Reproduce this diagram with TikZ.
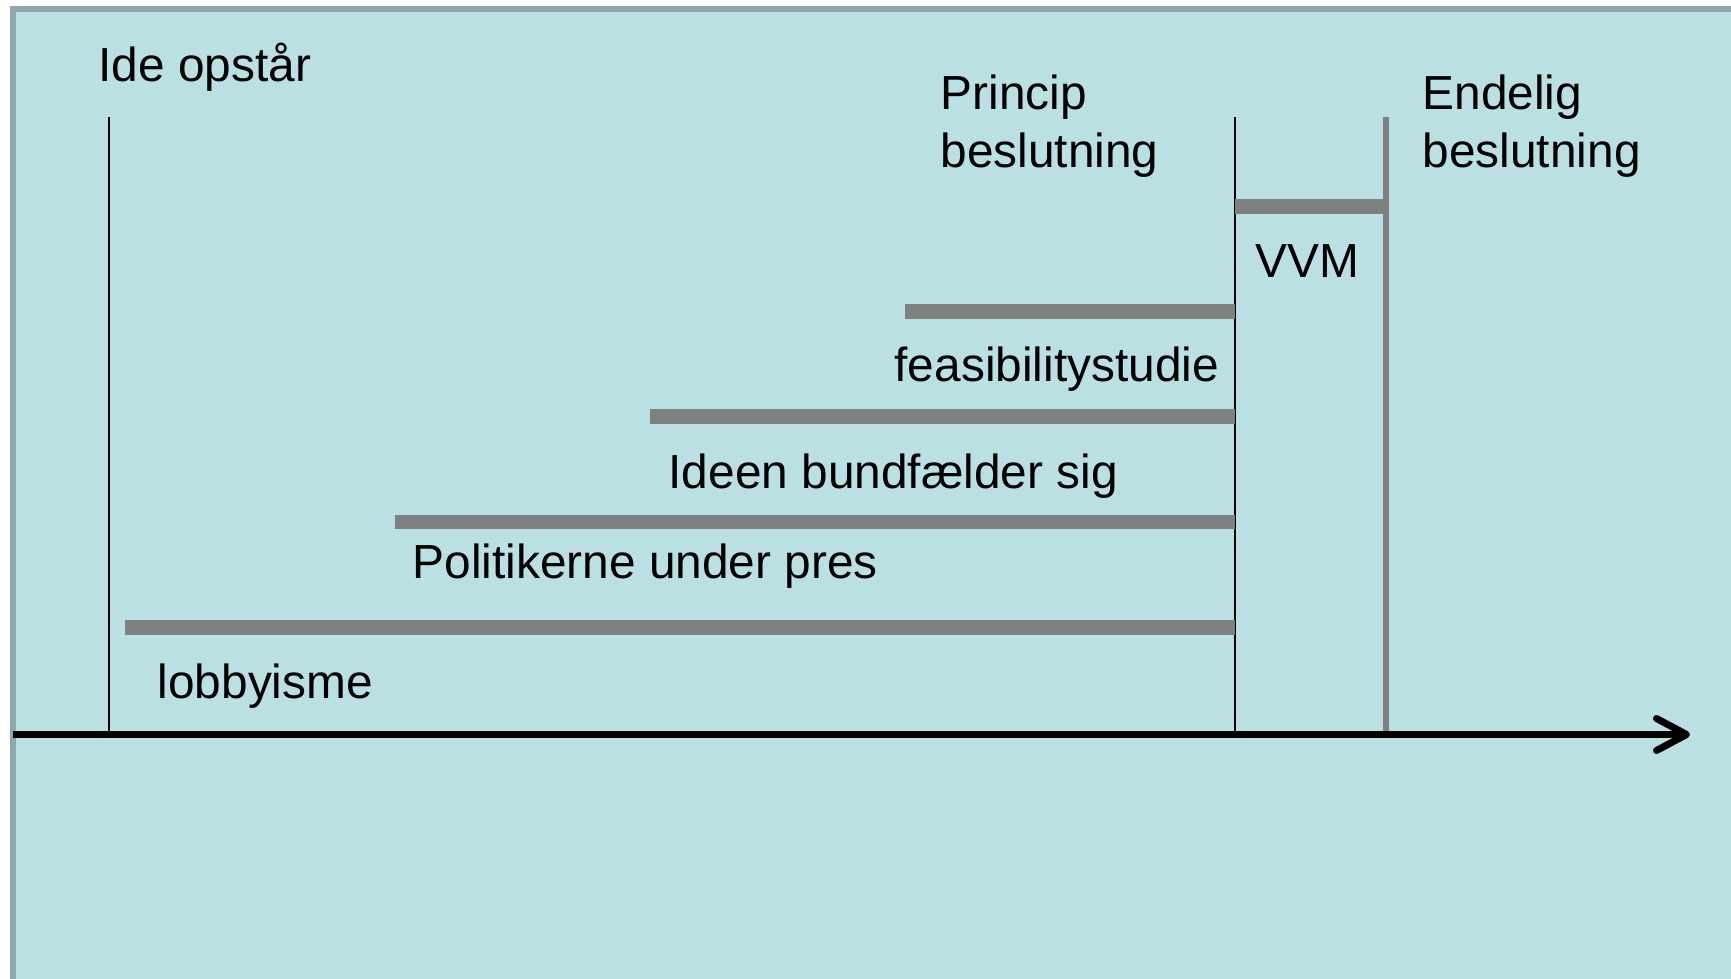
\documentclass[tikz,border=0pt]{standalone}
\usepackage{fontspec}
\setmainfont{Liberation Sans}
\definecolor{baggrund}{RGB}{186,224,227}
\definecolor{ramme}{RGB}{143,168,170}
\definecolor{fasegraa}{RGB}{128,128,128}
\usetikzlibrary{arrows.meta}
\tikzset{
  fase/.style={line width=0.15cm,color=fasegraa},
  tekst/.style={anchor=base west,inner sep=0pt,align=left,
    font=\fontsize{13.6}{16.5}\selectfont},
}

\begin{document}
\begin{tikzpicture}
    \useasboundingbox (0,0) rectangle (17.31,-9.79) ;
    \draw[color=ramme,fill=baggrund,line width=0.06cm] (0.13,-0.09) rectangle (17.6,-10.1) ;
    %% tidslinjens faste punkter
    \coordinate (ide top) at (1.09,-1.17) ;
    \coordinate (ide bund) at (1.09,-7.31) ;
    \coordinate (princip top) at (12.35,-1.17) ;
    \coordinate (princip bund) at (12.35,-7.31) ;
    \coordinate (endelig top) at (13.855,-1.17) ;
    \coordinate (endelig bund) at (13.855,-7.31) ;
    \draw[thin] (ide top) -- (ide bund) ;
    \draw[thin] (princip top) -- (princip bund) ;
    \draw[line width=0.06cm,color=fasegraa] (endelig top) -- (endelig bund) ;
    %% faserne
    \draw[fase] (12.35,-2.07) -- (endelig top |- 0,-2.07) ;
    \draw[fase] (9.05,-3.115) -- (princip top |- 0,-3.115) ;
    \draw[fase] (6.50,-4.17) -- (princip top |- 0,-4.17) ;
    \draw[fase] (3.95,-5.22) -- (princip top |- 0,-5.22) ;
    \draw[fase] (1.25,-6.27) -- (princip top |- 0,-6.27) ;
    %% tekster
    \node[tekst] (ide) at (0.98,-0.82) {Ide opstår} ;
    \node[tekst] (princip) at (9.40,-1.675) {Princip\\beslutning} ;
    \node[tekst] (endelig) at (14.22,-1.675) {Endelig\\beslutning} ;
    \node[tekst] (vvm) at (12.55,-2.78) {VVM} ;
    \node[tekst] (feasibility) at (8.94,-3.82) {feasibilitystudie} ;
    \node[tekst] (ideen) at (6.68,-4.88) {Ideen bundfælder sig} ;
    \node[tekst] (politikerne) at (4.12,-5.78) {Politikerne under pres} ;
    \node[tekst] (lobbyisme) at (1.57,-6.98) {lobbyisme} ;
    %% tidsaksen
    \coordinate (akse start) at (0.13,-7.345) ;
    \coordinate (akse slut) at (16.90,-7.345) ;
    \draw[line width=0.07cm,-{Straight Barb[length=0.3cm,width=0.32cm,round]}] (akse start) -- (akse slut) ;
\end{tikzpicture}
\end{document}
